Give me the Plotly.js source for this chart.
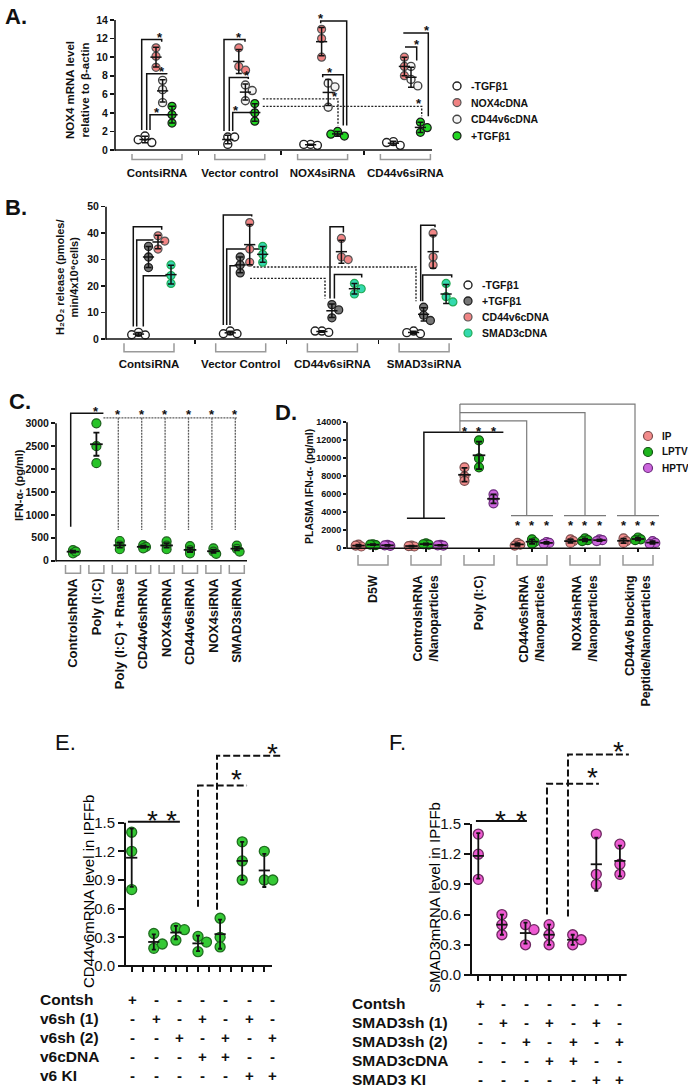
<!DOCTYPE html>
<html>
<head>
<meta charset="utf-8">
<script src="https://cdn.plot.ly/plotly-3.0.1.min.js"></script>
<style>html,body{margin:0;padding:0;background:#fff;}#fig{width:688px;height:1087px;}</style>
</head>
<body>
<div id="fig"></div>
<script>
// ===================== DATA =====================
// Panel A : NOX4 mRNA level relative to beta-actin
const A_categories = ['ContsiRNA', 'Vector control', 'NOX4siRNA', 'CD44v6siRNA'];
const A_series = ['-TGFβ1', 'NOX4cDNA', 'CD44v6cDNA', '+TGFβ1'];
const A_minusTGFb1 = [[1.5, 0.8, 1.1], [1.4, 0.6, 1.4], [0.6, 0.5, 0.6], [0.9, 0.5, 0.8]];
const A_NOX4cDNA   = [[11.0, 10.1, 8.9], [11.0, 9.0, 8.6], [13.0, 12.0, 10.0], [10.0, 9.0, 8.0]];
const A_CD44v6cDNA = [[7.5, 6.5, 5.1], [7.0, 6.4, 5.3], [7.2, 6.8, 4.6], [9.0, 7.6, 6.9]];
const A_plusTGFb1  = [[4.7, 3.8, 2.9], [5.0, 4.0, 3.1], [2.0, 1.5, 1.7], [3.0, 2.4, 1.9]];
const A_yticks = [0, 2, 4, 6, 8, 10, 12, 14];

// Panel B : H2O2 release
const B_categories = ['ContsiRNA', 'Vector Control', 'CD44v6siRNA', 'SMAD3siRNA'];
const B_series = ['-TGFβ1', '+TGFβ1', 'CD44v6cDNA', 'SMAD3cDNA'];
const B_minusTGFb1 = [[2.5, 1.5, 1.6], [3.0, 2.0, 2.0], [3.0, 2.5, 3.0], [3.0, 2.0, 2.4]];
const B_plusTGFb1  = [[35, 31, 27], [31, 28, 25], [13, 11, 8], [12, 9, 7]];
const B_CD44v6cDNA = [[39, 37, 34], [44, 34, 29], [38, 31, 30], [40, 31, 28]];
const B_SMAD3cDNA  = [[28, 24, 21], [35, 32, 29], [21, 19, 17], [21, 16, 14]];
const B_yticks = [0, 10, 20, 30, 40, 50];

// Panel C : IFN-alpha (pg/ml)
const C_categories = ['ControlshRNA', 'Poly (I:C)', 'Poly (I:C) + Rnase', 'CD44v6shRNA', 'NOX4shRNA', 'CD44v6siRNA', 'NOX4siRNA', 'SMAD3siRNA'];
const C_IFNa = [[230, 160, 200], [3000, 2500, 2130], [430, 330, 250], [340, 300, 270], [420, 330, 250], [320, 230, 160], [270, 200, 150], [330, 260, 200]];
const C_yticks = [0, 500, 1000, 1500, 2000, 2500, 3000];

// Panel D : Plasma IFN-alpha (pg/ml)
const D_categories = ['D5W', 'ControlshRNA<br>/Nanoparticles', 'Poly (I:C)', 'CD44v6shRNA<br>/Nanoparticles', 'NOX4shRNA<br>/Nanoparticles', 'CD44v6 blocking<br>Peptide/Nanoparticles'];
const D_series = ['IP', 'LPTV', 'HPTV'];
const D_IP   = [[400, 200, 300], [300, 200, 250], [9000, 8000, 7500], [600, 400, 300], [1000, 800, 600], [1100, 800, 600]];
const D_LPTV = [[450, 350, 400], [550, 400, 450], [12000, 10000, 9000], [1000, 700, 500], [1100, 900, 800], [1200, 1000, 900]];
const D_HPTV = [[380, 280, 330], [380, 300, 330], [6000, 5500, 5000], [700, 600, 500], [1000, 900, 800], [800, 600, 500]];
const D_yticks = [0, 2000, 4000, 6000, 8000, 10000, 12000, 14000];

// Panel E : CD44v6 mRNA level in IPFFb
const E_values = [[1.40, 1.20, 0.80], [0.34, 0.185, 0.23], [0.40, 0.27, 0.38], [0.31, 0.25, 0.15], [0.50, 0.30, 0.20], [1.30, 1.10, 0.90], [1.20, 0.90, 0.90]];
const E_rowLabels = ['Contsh', 'v6sh (1)', 'v6sh (2)', 'v6cDNA', 'v6 KI'];
const E_signs = [
  ['+', '-', '-', '-', '-', '-', '-'],
  ['-', '+', '-', '+', '-', '+', '-'],
  ['-', '-', '+', '-', '+', '-', '+'],
  ['-', '-', '-', '+', '+', '-', '-'],
  ['-', '-', '-', '-', '-', '+', '+']];

// Panel F : SMAD3 mRNA level in IPFFb
const F_values = [[1.40, 1.20, 0.95], [0.60, 0.40, 0.50], [0.50, 0.45, 0.30], [0.50, 0.40, 0.30], [0.40, 0.30, 0.35], [1.40, 0.90, 1.00], [1.30, 1.00, 1.10]];
const F_rowLabels = ['Contsh', 'SMAD3sh (1)', 'SMAD3sh (2)', 'SMAD3cDNA', 'SMAD3 KI'];
const F_signs = [
  ['+', '-', '-', '-', '-', '-', '-'],
  ['-', '+', '-', '+', '-', '+', '-'],
  ['-', '-', '+', '-', '+', '-', '+'],
  ['-', '-', '-', '+', '+', '-', '-'],
  ['-', '-', '-', '-', '-', '+', '+']];
const EF_yticks = [0, 0.3, 0.6, 0.9, 1.2, 1.5];

// ===================== BUILD =====================
const W = 688, H = 1087;
const FONT = 'Liberation Sans, Arial, Helvetica, sans-serif';
const INK = '#111111';
const traces = [], shapes = [], ann = [];
const layout = {
  width: W, height: H, margin: {l: 0, r: 0, t: 0, b: 0, pad: 0}, showlegend: false,
  paper_bgcolor: '#ffffff', plot_bgcolor: 'rgba(0,0,0,0)',
  font: {family: FONT, color: INK}, shapes: shapes, annotations: ann, hovermode: false
};

const mean = a => a.reduce((s, v) => s + v, 0) / a.length;
const sd = a => { const m = mean(a); return Math.sqrt(a.reduce((s, v) => s + (v - m) * (v - m), 0) / (a.length - 1)); };
const sem = a => sd(a) / Math.sqrt(a.length);
const F = (size, weight) => ({family: FONT, size: size, color: INK, weight: weight || 400});

function makePanel(n, c) {
  const ids = n === 1 ? {xk: 'xaxis', yk: 'yaxis', xa: 'x', ya: 'y'} : {xk: 'xaxis' + n, yk: 'yaxis' + n, xa: 'x' + n, ya: 'y' + n};
  const p = Object.assign({}, c, ids);
  p.ppx = c.step;
  p.ppy = (c.y0 - c.yTpx) / c.yT;
  p.xr = [(c.xL - c.cat0) / p.ppx, (c.xR - c.cat0) / p.ppx];
  p.topPx = c.y0 - c.yMax * p.ppy;
  p.hPx = c.y0 - p.topPx;
  p.wPx = c.xR - c.xL;
  p.ux = u => (u - p.xr[0]) / (p.xr[1] - p.xr[0]);
  layout[p.xk] = Object.assign({domain: [c.xL / W, c.xR / W], range: p.xr, anchor: p.ya, showgrid: false, zeroline: false, showline: false, fixedrange: true}, c.xaxis);
  layout[p.yk] = Object.assign({domain: [1 - c.y0 / H, 1 - p.topPx / H], range: [0, c.yMax], anchor: p.xa, showgrid: false, zeroline: false, showline: false, fixedrange: true,
    tickmode: 'array', tickvals: c.yticks, ticks: 'outside', ticklen: c.tl, tickwidth: c.lw, tickcolor: INK, tickfont: c.ytf,
    exponentformat: 'none', separatethousands: false}, c.yaxis || {});
  // axis lines (Prism style: y axis stops at the last tick)
  shapes.push({type: 'line', xref: p.xa + ' domain', yref: p.ya + ' domain', x0: 0, x1: 0, y0: -c.lw / 2 / p.hPx, y1: c.yT / c.yMax, line: {color: INK, width: c.lw}, layer: 'above'});
  shapes.push({type: 'line', xref: p.xa + ' domain', yref: p.ya + ' domain', x0: 0, x1: (c.xEnd - c.xL) / p.wPx, y0: 0, y1: 0, line: {color: INK, width: c.lw}, layer: 'above'});
  return p;
}

function swarm(vals, ppx, ppy, step) {
  const placed = [], out = [];
  vals.forEach(v => {
    const cands = [0];
    for (let k = 1; k <= 4; k++) cands.push(k * step, -k * step);
    let chosen = 0;
    for (const c of cands) {
      const ok = placed.every(q => { const dx = q.x - c, dy = (q.v - v) * ppy; return dx * dx + dy * dy >= step * step; });
      if (ok) { chosen = c; break; }
    }
    placed.push({x: chosen, v: v});
    out.push(chosen / ppx);
  });
  return out;
}

function addDots(p, data, offPx, mk, name, step) {
  const xs = [], ys = [];
  data.forEach((arr, ci) => {
    const offs = swarm(arr, p.ppx, p.ppy, step);
    arr.forEach((v, k) => { xs.push(ci + offPx / p.ppx + offs[k]); ys.push(v); });
  });
  traces.push({type: 'scatter', mode: 'markers', x: xs, y: ys, xaxis: p.xa, yaxis: p.ya, name: name,
    showlegend: false, cliponaxis: false, hoverinfo: 'skip', marker: mk});
}

function addMeanErr(p, data, offPx, errFn, mSize, lw, cap) {
  traces.push({type: 'scatter', mode: 'markers', x: data.map((a, ci) => ci + offPx / p.ppx), y: data.map(mean),
    xaxis: p.xa, yaxis: p.ya, showlegend: false, cliponaxis: false, hoverinfo: 'skip',
    marker: {symbol: 'line-ew', size: mSize, color: INK, line: {color: INK, width: lw}},
    error_y: {type: 'data', array: data.map(errFn), color: INK, thickness: lw, width: cap, visible: true}});
}

function path(p, pts, line) {
  shapes.push({type: 'path', xref: p.xa, yref: p.ya, layer: 'below', line: line,
    path: pts.map((q, i) => (i ? 'L' : 'M') + q[0] + ',' + q[1]).join(' ')});
}
function star(p, x, y, size, weight) {
  ann.push({xref: p.xa, yref: p.ya, x: x, y: y, text: '*', showarrow: false, xanchor: 'center', yanchor: 'middle',
    yshift: -0.28 * size, font: F(size, weight)});
}
function catBrackets(p, n, halfPx, topPx, botPx) {
  for (let i = 0; i < n; i++) {
    const xa = p.ux(i - halfPx / p.ppx), xb = p.ux(i + halfPx / p.ppx);
    const ya = -topPx / p.hPx, yb = -botPx / p.hPx;
    shapes.push({type: 'path', xref: p.xa + ' domain', yref: p.ya + ' domain', layer: 'above',
      path: `M${xa},${ya} L${xa},${yb} L${xb},${yb} L${xb},${ya}`, line: {color: '#9a9a9a', width: 1.5}});
  }
}
function paperText(text, xPx, yPx, font, opts) {
  ann.push(Object.assign({xref: 'paper', yref: 'paper', x: xPx / W, y: 1 - yPx / H, text: text, showarrow: false,
    xanchor: 'center', yanchor: 'middle', font: font}, opts || {}));
}
// legend drawn as symbols + labels (lets the row spacing follow the original)
function legendBlock(names, markers, cx, tx, row0, gap, r, fsize) {
  names.forEach((nm, i) => {
    const cy = row0 + gap * i, mk = markers[i];
    shapes.push({type: 'circle', xref: 'paper', yref: 'paper', xsizemode: 'pixel', ysizemode: 'pixel',
      xanchor: cx / W, yanchor: 1 - cy / H, x0: -r, x1: r, y0: -r, y1: r,
      fillcolor: mk.color, line: {color: mk.line.color, width: mk.line.width}, layer: 'above'});
    paperText(nm, tx, cy, F(fsize, 700), {xanchor: 'left'});
  });
}
const legTop = (p, vals, gapPx) => Math.max.apply(null, vals) + gapPx / p.ppy;
const BLK = {color: INK, width: 1.5};
const DOT = {color: '#222', width: 1.4, dash: '2px,1.5px'};
const GREY = {color: '#7a7a7a', width: 1.2};
const GREYDOT = {color: '#5c5c5c', width: 1.3, dash: '2px,1px'};

// ---------- Panel A ----------
const pA = makePanel(1, {xL: 115, xR: 445, xEnd: 432, cat0: 157, step: 82.8, y0: 150, yTpx: 20, yT: 14, yMax: 15,
  yticks: A_yticks, lw: 1.6, tl: 4, ytf: F(10.5, 700),
  xaxis: {tickmode: 'array', tickvals: A_categories.map((_, i) => i), ticktext: A_categories, ticks: '',
    tickfont: F(11.5, 700), ticklabelstandoff: 14,
    minor: {tickmode: 'array', tickvals: [0.5, 1.5, 2.5], ticks: 'outside', ticklen: 4, tickwidth: 1.5, tickcolor: INK}}});
const A_sets = [A_minusTGFb1, A_NOX4cDNA, A_CD44v6cDNA, A_plusTGFb1];
const A_offPx = [-12, -1, 5.6, 15];
const A_mk = [
  {size: 8, color: '#ffffff', line: {color: '#222', width: 1.4}},
  {size: 8, color: '#F08282', line: {color: '#555', width: 1.2}},
  {size: 8, color: '#F4F4F4', line: {color: '#444', width: 1.4}},
  {size: 8, color: '#22D622', line: {color: '#1a1a1a', width: 1.2}}];
A_sets.forEach((d, s) => addDots(pA, d, A_offPx[s], A_mk[s], A_series[s], 6.8));
A_sets.forEach((d, s) => addMeanErr(pA, d, A_offPx[s], sd, 8, 1.5, 3));
catBrackets(pA, A_categories.length, 25, 4, 9.5);
const A_brk = [
  {c: 0, s0: 0, s1: 1, x0: -15.3, x1: 4.7, y: 11.9, f: 0.9},
  {c: 0, s0: 0, s1: 2, x0: -10.3, x1: 9.7, y: 8.2, f: 0.78},
  {c: 0, s0: 0, s1: 3, x0: -7, x1: 14.7, y: 3.8, f: 0.34},
  {c: 1, s0: 0, s1: 1, x0: -15.8, x1: 5.2, y: 11.9, f: 0.73},
  {c: 1, s0: 0, s1: 2, x0: -10.5, x1: 8.5, y: 7.8, f: 0.91},
  {c: 1, s0: 0, s1: 3, x0: -7.1, x1: 15.2, y: 4.05, f: 0.15},
  {c: 2, s0: 1, s1: 3, x0: -1.9, x1: 24.1, y: 13.9, f: 0},
  {c: 2, s0: 2, s1: 3, x0: 0.1, x1: 20.7, y: 8.1, f: 0.35},
  {c: 3, s0: 1, s1: 3, x0: -2.1, x1: 22.9, y: 12.6, f: 0.93, l0: false},
  {c: 3, s0: 1, s1: 2, x0: -0.4, x1: 11.3, y: 11.1, f: 1, l0: false}];
A_brk.forEach(b => {
  const xa = b.c + b.x0 / pA.ppx, xb = b.c + b.x1 / pA.ppx, pts = [];
  const fTop = legTop(pA, A_sets[b.s0][b.c], 6), tTop = legTop(pA, A_sets[b.s1][b.c], 6);
  if (b.l0 !== false && fTop < b.y) pts.push([xa, fTop]);
  pts.push([xa, b.y], [xb, b.y]);
  if (tTop < b.y) pts.push([xb, tTop]);
  path(pA, pts, BLK);
  star(pA, xa + (xb - xa) * b.f, b.y + 6 / pA.ppy, 13, 700);
});
[{c0: 1, x0: 23, c1: 2, x1: 15.4, y: 5.5}, {c0: 1, x0: 23, c1: 3, x1: 16.3, y: 4.7}].forEach(b => {
  const xa = b.c0 + b.x0 / pA.ppx, xb = b.c1 + b.x1 / pA.ppx;
  path(pA, [[xa, b.y], [xb, b.y], [xb, legTop(pA, A_plusTGFb1[b.c1], 6)]], DOT);
  star(pA, xb - 3 / pA.ppx, b.y + 6 / pA.ppy, 13, 700);
});
legendBlock(A_series, A_mk, 457, 469, 86, 16.6, 4, 10.5);

// ---------- Panel B ----------
const pB = makePanel(2, {xL: 106, xR: 460, xEnd: 452, cat0: 149, step: 91.7, y0: 339, yTpx: 206.7, yT: 50, yMax: 50.5,
  yticks: B_yticks, lw: 1.6, tl: 4, ytf: F(10.5, 700),
  xaxis: {tickmode: 'array', tickvals: B_categories.map((_, i) => i), ticktext: B_categories, ticks: '',
    tickfont: F(11.5, 700), ticklabelstandoff: 16,
    minor: {tickmode: 'array', tickvals: [0.5, 1.5, 2.5], ticks: 'outside', ticklen: 4, tickwidth: 1.5, tickcolor: INK}}});
const B_sets = [B_minusTGFb1, B_plusTGFb1, B_CD44v6cDNA, B_SMAD3cDNA];
const B_offPx = [-10.5, -0.5, 9, 22];
const B_mk = [
  {size: 8, color: '#ffffff', line: {color: '#222', width: 1.4}},
  {size: 8, color: '#777777', line: {color: '#222', width: 1.3}},
  {size: 8, color: '#F08585', line: {color: '#555', width: 1.2}},
  {size: 8, color: '#33D9AE', line: {color: '#2a5', width: 1.2}}];
B_sets.forEach((d, s) => addDots(pB, d, B_offPx[s], B_mk[s], B_series[s], 6.8));
B_sets.forEach((d, s) => addMeanErr(pB, d, B_offPx[s], sd, 8, 1.5, 3));
catBrackets(pB, B_categories.length, 25, 4.3, 12.7);
const B_brk = [
  {c: 0, s0: 0, s1: 2, x0: -15.7, x1: 12.7, y: 42.4},
  {c: 0, s0: 0, s1: 1, x0: -12.3, x1: 3.7, y: 37.4},
  {c: 0, s0: 0, s1: 3, x0: -5.7, x1: 19.3, y: 23.9},
  {c: 1, s0: 0, s1: 2, x0: -17.4, x1: 11, y: 46.9},
  {c: 1, s0: 0, s1: 3, x0: -14, x1: 22.6, y: 34},
  {c: 1, s0: 0, s1: 1, x0: -10.7, x1: 2.3, y: 27.7},
  {c: 2, s0: 1, s1: 2, x0: -2.4, x1: 11, y: 42.4},
  {c: 2, s0: 1, s1: 3, x0: 2, x1: 29.3, y: 24.4},
  {c: 3, s0: 1, s1: 2, x0: -3.4, x1: 10.9, y: 43},
  {c: 3, s0: 1, s1: 3, x0: -1.4, x1: 27.6, y: 24.2}];
B_brk.forEach(b => {
  const xa = b.c + b.x0 / pB.ppx, xb = b.c + b.x1 / pB.ppx, pts = [];
  const fTop = legTop(pB, B_sets[b.s0][b.c], 6), tTop = legTop(pB, B_sets[b.s1][b.c], 6);
  if (fTop < b.y) pts.push([xa, fTop]);
  pts.push([xa, b.y], [xb, b.y]);
  if (tTop < b.y) pts.push([xb, tTop]);
  path(pB, pts, BLK);
});
[{c0: 1, x0: 12.6, c1: 3, x1: -8.1, y: 27.2}, {c0: 1, x0: 9.3, c1: 2, x1: -7.4, y: 22.9}].forEach(b => {
  const xa = b.c0 + b.x0 / pB.ppx, xb = b.c1 + b.x1 / pB.ppx;
  path(pB, [[xa, b.y], [xb, b.y], [xb, legTop(pB, B_plusTGFb1[b.c1], 6)]], DOT);
});
legendBlock(B_series, B_mk, 468, 480, 285, 16, 4, 10.5);

// ---------- Panel C ----------
const pC = makePanel(3, {xL: 56, xR: 250, xEnd: 247, cat0: 73, step: 23.4, y0: 560.7, yTpx: 423.3, yT: 3000, yMax: 3450,
  yticks: C_yticks, lw: 1.6, tl: 4, ytf: F(10.5, 700), yaxis: {tickformat: 'd'},
  xaxis: {tickmode: 'array', tickvals: C_categories.map((_, i) => i), ticktext: C_categories, ticks: '',
    tickangle: -90, tickfont: F(13, 700), ticklabelstandoff: 14}});
addDots(pC, C_IFNa, 0, {size: 9, color: '#27C427', line: {color: '#1c5e1c', width: 1.2}}, 'IFN-α', 2.8);
addMeanErr(pC, C_IFNa, 0, sem, 9, 1.8, 3);
catBrackets(pC, C_categories.length, 7.5, 4.3, 12.6);
path(pC, [[-2.3 / pC.ppx, 740], [-2.3 / pC.ppx, 3220], [1.3, 3220]], BLK);
star(pC, 1, 3330, 13, 700);
path(pC, [[1.3, 3120], [C_categories.length - 1, 3120]], GREYDOT);
for (let ci = 2; ci < C_categories.length; ci++) {
  path(pC, [[ci - 1.5 / pC.ppx, 3120], [ci - 1.5 / pC.ppx, 670]], GREYDOT);
  star(pC, ci - 1.5 / pC.ppx, 3270, 13, 700);
}

// ---------- Panel D ----------
const pD = makePanel(4, {xL: 347, xR: 672, xEnd: 660, cat0: 373, step: 53, y0: 548.3, yTpx: 422.3, yT: 14000, yMax: 16600,
  yticks: D_yticks, lw: 1.6, tl: 3, ytf: F(9, 700), yaxis: {tickformat: 'd'},
  xaxis: {tickmode: 'array', tickvals: D_categories.map((_, i) => i), ticktext: D_categories, ticks: 'outside', ticklen: 3,
    tickwidth: 1.5, tickcolor: INK, tickangle: -90, tickfont: F(12.5, 700), ticklabelstandoff: 18}});
const D_sets = [D_IP, D_LPTV, D_HPTV];
const D_offPx = [-14.5, 0, 14.5];
const D_mk = [
  {size: 9, color: '#F28B8B', line: {color: '#7a4a4a', width: 1.2}},
  {size: 9, color: '#1DB51D', line: {color: '#145214', width: 1.2}},
  {size: 9, color: '#CC66DD', line: {color: '#6a2a7a', width: 1.2}}];
D_sets.forEach((d, s) => addDots(pD, d, D_offPx[s], D_mk[s], D_series[s], 2.8));
D_sets.forEach((d, s) => addMeanErr(pD, d, D_offPx[s], sd, 9, 1.8, 3));
catBrackets(pD, D_categories.length, 15, 6.7, 16.7);
path(pD, [[0.64, 3330], [1.36, 3330]], BLK);
path(pD, [[0.96, 3330], [0.96, 12900], [2.46, 12900]], BLK);
D_offPx.forEach(o => star(pD, 2 + o / pD.ppx, 13400, 13, 700));
path(pD, [[1.64, 12900], [1.64, 16030]], GREY);
[[3, 14150, -5.3], [4, 15070, 0], [5, 16030, -3]].forEach(g => {
  const tx = g[0] + g[2] / pD.ppx;
  path(pD, [[1.64, g[1]], [tx, g[1]], [tx, 3630]], GREY);
  path(pD, [[g[0] - 21 / pD.ppx, 3630], [g[0] + 21 / pD.ppx, 3630]], GREY);
  D_offPx.forEach(o => star(pD, g[0] + o / pD.ppx, 2960, 13, 700));
});
legendBlock(D_series, D_mk, 648, 660, 436, 16, 4.5, 10);

// ---------- Panels E & F ----------
function efPanel(n, cfg, values, color, edge, title, titleX, titleY, rowLabels, signs, labelX, row0, colX0) {
  const half = [];
  for (let i = 0; i <= 12; i++) half.push(i / 2);
  const p = makePanel(n, Object.assign(cfg, {yT: 1.5, yMax: 2.45, yticks: EF_yticks, lw: 2, tl: 6, ytf: F(15, 400),
    yaxis: {tickformat: '.1f'},
    xaxis: {tickmode: 'array', tickvals: half, ticks: 'outside', ticklen: 5, tickwidth: 2, tickcolor: INK, showticklabels: false}}));
  addDots(p, values, 0, {size: 10, color: color, line: {color: edge, width: 1.3}}, title, 8.5);
  addMeanErr(p, values, 0, sd, 8, 1.8, 2);
  paperText(title, titleX, titleY, {family: FONT, size: 15, color: '#000', weight: 400}, {textangle: -90});
  rowLabels.forEach((t, r) => {
    const y = row0 + 19 * r;
    paperText(t, labelX, y, F(15.5, 700), {xanchor: 'left'});
    signs[r].forEach((s, c) => paperText(s, colX0 + 23.3 * c, y, F(15, 700)));
  });
  return p;
}
const DASH = {color: INK, width: 2, dash: '7px,3px'};
const SOL = {color: INK, width: 2};

const pE = efPanel(5, {xL: 125, xR: 292, xEnd: 272, cat0: 131.7, step: 22.1, y0: 966, yTpx: 822.7},
  E_values, '#35C935', '#1f6f1f', 'CD44v6mRNA level in IPFFb', 88, 892, E_rowLabels, E_signs, 38, 999, 132.7);
path(pE, [[-0.17, 1.51], [2.18, 1.51]], SOL);
star(pE, 0.92, 1.60, 28, 400); star(pE, 1.82, 1.60, 28, 400);
path(pE, [[3.0, 0.62], [3.0, 1.89], [5.22, 1.89]], DASH);
star(pE, 4.76, 2.03, 28, 400);
path(pE, [[3.86, 0.59], [3.86, 2.2], [6.85, 2.2]], DASH);
star(pE, 6.35, 2.31, 28, 400);

const pF = efPanel(6, {xL: 471, xR: 642, xEnd: 626.7, cat0: 478.3, step: 23.6, y0: 975, yTpx: 824},
  F_values, '#EE5AD2', '#6d2a60', 'SMAD3mRNA level in IPFFb', 434, 898, F_rowLabels, F_signs, 350, 1003, 480);
path(pF, [[-0.1, 1.53], [2.06, 1.53]], SOL);
star(pF, 0.92, 1.61, 28, 400); star(pF, 1.84, 1.61, 28, 400);
path(pF, [[2.91, 0.6], [2.91, 1.90], [5.11, 1.90]], DASH);
star(pF, 4.85, 2.04, 28, 400);
path(pF, [[3.8, 0.58], [3.8, 2.19], [6.38, 2.19]], DASH);
star(pF, 5.96, 2.30, 28, 400);

// ---------- Titles & panel letters ----------
paperText('NOX4 mRNA level<br>relative to β-actin', 78, 90, F(11.5, 700), {textangle: -90});
paperText('H₂O₂ release (pmoles/<br>min/4x10⁶cells)', 67, 277, F(11, 700), {textangle: -90});
paperText('IFN-α- (pg/ml)', 19, 485, F(11, 700), {textangle: -90});
paperText('PLASMA IFN-α- (pg/ml)', 309, 487, F(10.5, 700), {textangle: -90});
[['A.', 3, 2, 700], ['B.', 3, 193, 700], ['C.', 7, 387, 700], ['D.', 273, 398, 700], ['E.', 53, 728, 400], ['F.', 387, 728, 400]]
  .forEach(l => paperText(l[0], l[1], l[2], F(22, l[3]), {xanchor: 'left', yanchor: 'top'}));

Plotly.newPlot('fig', traces, layout, {staticPlot: true, displayModeBar: false});
</script>
</body>
</html>
